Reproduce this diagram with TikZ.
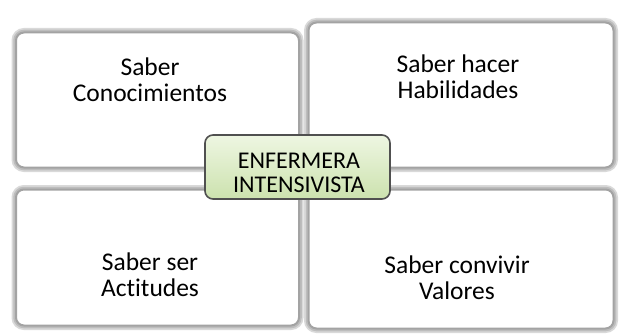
\documentclass[tikz,border=0pt]{standalone}
\usepackage{fontspec}
\setmainfont{Carlito}[Ligatures=NoCommon]
\definecolor{greentop}{HTML}{EEF6E2}
\definecolor{greenbot}{HTML}{CCE2AE}
\definecolor{framedark}{HTML}{505050}
\begin{document}
\begin{tikzpicture}[x=1pt,y=-1pt,
  frame/.style={rectangle, rounded corners=8pt, fill=white, inner sep=0pt,
    preaction={draw=gray!30, line width=9pt},
    preaction={draw=gray!52, line width=5.5pt},
    draw=gray!72, line width=2pt},
  lbl/.style={align=center, font=\fontsize{25.5}{26}\selectfont, text=black, inner sep=0pt},
  core/.style={rectangle, rounded corners=8pt, top color=greentop, bottom color=greenbot,
    draw=framedark, line width=1.6pt, inner sep=0pt}]
\useasboundingbox (0,0) rectangle (621,334);
% frames
\node[frame, minimum width=283pt, minimum height=135pt] (tl) at (157.5,100) {};
\node[frame, minimum width=305pt, minimum height=145pt] (tr) at (461,95) {};
\node[frame, minimum width=283pt, minimum height=136pt] (bl) at (157.5,257.5) {};
\node[frame, minimum width=305pt, minimum height=139pt] (br) at (461,259) {};
% centre
\node[core, minimum width=185pt, minimum height=64pt] (c) at (297.5,167) {};
% labels
\node[lbl] (tlt) at (150,80) {Saber\\Conocimientos};
\node[lbl] (trt) at (458,77) {Saber hacer\\Habilidades};
\node[lbl] (blt) at (150,275) {Saber ser\\Actitudes};
\node[lbl] (brt) at (457,278) {Saber convivir\\Valores};
\node[lbl, font=\fontsize{24}{23.5}\selectfont] (ct) at (299,173) {ENFERMERA\\INTENSIVISTA};
\end{tikzpicture}
\end{document}
